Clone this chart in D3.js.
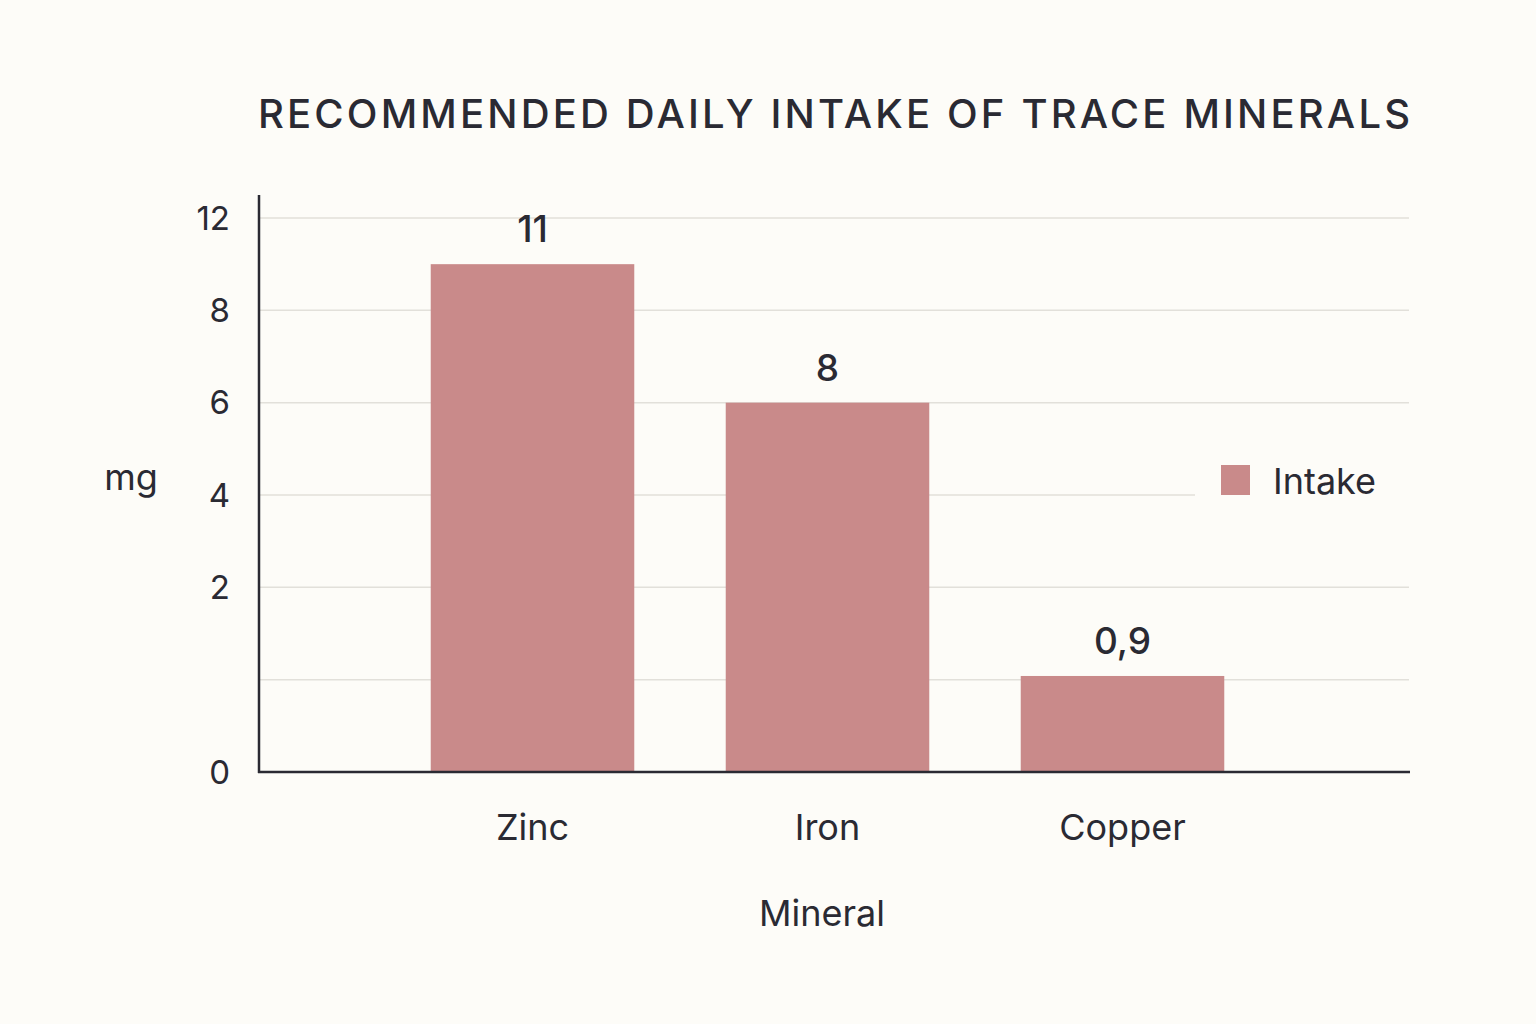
<!DOCTYPE html>
<meta charset="utf-8">
<style>
  body { margin: 0; background: #fdfcf8; }
  text { font-family: Inter, "Noto Sans", sans-serif; fill: #2a2a33; }
</style>
<body>
<script src="https://cdn.jsdelivr.net/npm/d3@7"></script>
<script>
  // categories and values as printed on the chart
  var minerals = ["Zinc", "Iron", "Copper"];
  var intake = [11, 8, 0.9];
  var intakeLabels = ["11", "8", "0,9"];
  // bar tops as read against the (unevenly labelled) tick slots
  var barLevels = [5.5, 4.0, 1.04];
  var tickSlots = [0, 1, 2, 3, 4, 5, 6];
  var tickLabels = ["0", "", "2", "4", "6", "8", "12"];

  var svg = d3.select("body").append("svg")
    .attr("width", 1536).attr("height", 1024);

  svg.append("rect").attr("width", 1536).attr("height", 1024).attr("fill", "#fdfcf8");

  var x = d3.scaleBand().domain(minerals).range([385, 1270])
    .paddingInner(0.31).paddingOuter(0.155);
  var y = d3.scaleLinear().domain([0, 6]).range([772, 218]);

  // title
  svg.append("text")
    .attr("x", 258).attr("y", 128)
    .attr("textLength", 1152)
    .style("font-size", "40px").style("font-weight", 500)
    .text("RECOMMENDED DAILY INTAKE OF TRACE MINERALS");

  // gridlines
  svg.append("g").selectAll("line")
    .data(tickSlots.filter(function (d) { return d > 0; }))
    .enter().append("line")
    .attr("x1", 259).attr("x2", 1409)
    .attr("y1", function (d) { return y(d); })
    .attr("y2", function (d) { return y(d); })
    .attr("stroke", "#e2e0da").attr("stroke-width", 1.5);

  // tick labels
  svg.append("g").selectAll("text")
    .data(tickSlots)
    .enter().append("text")
    .attr("x", 230)
    .attr("y", function (d) { return y(d); })
    .attr("dy", "0.35em")
    .attr("text-anchor", "end")
    .style("font-size", "33px")
    .text(function (d, i) { return tickLabels[i]; });

  // bars
  svg.append("g").selectAll("rect")
    .data(minerals)
    .enter().append("rect")
    .attr("x", function (d) { return x(d); })
    .attr("width", x.bandwidth())
    .attr("y", function (d, i) { return y(barLevels[i]); })
    .attr("height", function (d, i) { return y(0) - y(barLevels[i]); })
    .attr("fill", "#c98a8a");

  // value labels
  svg.append("g").selectAll("text")
    .data(minerals)
    .enter().append("text")
    .attr("x", function (d) { return x(d) + x.bandwidth() / 2; })
    .attr("y", function (d, i) { return y(barLevels[i]) - 22; })
    .attr("text-anchor", "middle")
    .style("font-size", "37px").style("font-weight", 500)
    .text(function (d, i) { return intakeLabels[i]; });

  // axes lines
  svg.append("line").attr("x1", 259).attr("x2", 259).attr("y1", 195).attr("y2", 773)
    .attr("stroke", "#2a2a33").attr("stroke-width", 2.5);
  svg.append("line").attr("x1", 258).attr("x2", 1410).attr("y1", 772).attr("y2", 772)
    .attr("stroke", "#2a2a33").attr("stroke-width", 2.5);

  // category labels
  svg.append("g").selectAll("text")
    .data(minerals)
    .enter().append("text")
    .attr("x", function (d) { return x(d) + x.bandwidth() / 2; })
    .attr("y", 840)
    .attr("text-anchor", "middle")
    .style("font-size", "36px")
    .text(function (d) { return d; });

  // axis titles
  svg.append("text").attr("x", 822).attr("y", 926).attr("text-anchor", "middle")
    .style("font-size", "36px").text("Mineral");
  svg.append("text").attr("x", 131).attr("y", 490).attr("text-anchor", "middle")
    .style("font-size", "36px").text("mg");

  // legend
  var legend = svg.append("g");
  legend.append("rect").attr("x", 1195).attr("y", 450).attr("width", 214).attr("height", 60)
    .attr("fill", "#fdfcf8");
  legend.append("rect").attr("x", 1221).attr("y", 465).attr("width", 29).attr("height", 30)
    .attr("fill", "#c98a8a");
  legend.append("text").attr("x", 1273).attr("y", 481).attr("dy", "0.35em")
    .style("font-size", "36px").text("Intake");
</script>
</body>
